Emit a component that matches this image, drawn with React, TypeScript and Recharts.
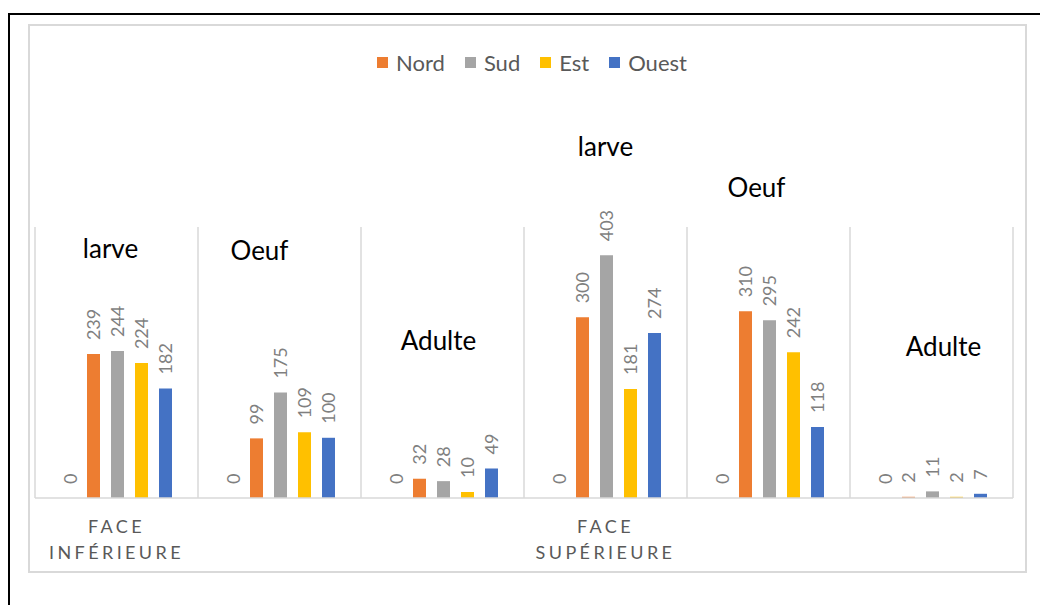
import React from 'react';
import { BarChart, Bar, XAxis, YAxis, Legend, LabelList, CartesianGrid, ReferenceDot } from 'recharts';

const categories = ['inf-larve', 'inf-oeuf', 'inf-adulte', 'sup-larve', 'sup-oeuf', 'sup-adulte'];
const faceLabels = [['FACE', 'INFÉRIEURE'], [], [], ['FACE', 'SUPÉRIEURE'], [], []];
const stageLabels = ['larve', 'Oeuf', 'Adulte', 'larve', 'Oeuf', 'Adulte'];

const baseValues = [0, 0, 0, 0, 0, 0];
const nordValues = [239, 99, 32, 300, 310, 2];
const sudValues = [244, 175, 28, 403, 295, 11];
const estValues = [224, 109, 10, 181, 242, 2];
const ouestValues = [182, 100, 49, 274, 118, 7];

const seriesNames = ['Nord', 'Sud', 'Est', 'Ouest'];
const seriesColors = ['#ED7D31', '#A5A5A5', '#FFC000', '#4472C4'];

const yDomain = [0, 450];

// text-box annotations (stage names) anchored on the value scale
const annotationLevels = [415, 412, 262, 584, 516, 252];
const annotationShift = [-6, -20, -4, 0, -12, 12];

const data = categories.map((c, i) => ({
  cat: c,
  base: baseValues[i],
  Nord: nordValues[i],
  Sud: sudValues[i],
  Est: estValues[i],
  Ouest: ouestValues[i],
}));

const FONT = 'Lato, "Open Sans", sans-serif';

const renderValueLabel = (props: any) => {
  const { x, y, width, height, value } = props;
  const cx = Number(x) + Number(width) / 2;
  const top = Math.min(Number(y), Number(y) + Number(height));
  const ty = (value === 0 ? top + Math.abs(Number(height)) : top) - 14;
  return (
    <text
      x={cx}
      y={ty}
      transform={`rotate(-90 ${cx} ${ty})`}
      textAnchor="start"
      dominantBaseline="central"
      fontFamily={FONT}
      fontSize={18}
      fill="#7f7f7f"
    >
      {value}
    </text>
  );
};

const FaceTick = (props: any) => {
  const { x, y, index } = props;
  const lines = faceLabels[index] || [];
  return (
    <g>
      {lines.map((t: string, k: number) => (
        <text
          key={k}
          x={x}
          y={y + 28 + k * 26}
          textAnchor="middle"
          dominantBaseline="central"
          fontFamily={FONT}
          fontSize={18}
          letterSpacing={3.4}
          fill="#595959"
        >
          {t}
        </text>
      ))}
    </g>
  );
};

const LegendContent = (props: any) => {
  const raw = (props.payload || []).filter((p: any) => p.type !== 'none' && p.value);
  const items = seriesNames
    .map((n) => raw.find((p: any) => p.value === n))
    .filter(Boolean);
  return (
    <div style={{ display: 'flex', justifyContent: 'center', alignItems: 'center', height: 30, paddingLeft: 24, boxSizing: 'border-box' }}>
      {items.map((p: any, i: number) => (
        <div key={i} style={{ display: 'flex', alignItems: 'center', marginLeft: i === 0 ? 0 : 20 }}>
          <span style={{ display: 'inline-block', width: 11, height: 11, background: p.color, marginRight: 8 }} />
          <span style={{ fontFamily: FONT, fontSize: 22, color: '#595959' }}>{p.value}</span>
        </div>
      ))}
    </div>
  );
};

const makeAnnotation = (text: string, dx: number) => (props: any) => {
  const vb = props.viewBox || {};
  const cx = (vb.x ?? props.x ?? 0) + (vb.width ?? 0) / 2 + dx;
  const cy = (vb.y ?? props.y ?? 0) + (vb.height ?? 0) / 2;
  return (
    <text x={cx} y={cy} textAnchor="middle" dominantBaseline="central" fontFamily={FONT} fontSize={26} fill="#000">
      {text}
    </text>
  );
};

const separatorGenerator = (args: any) => {
  const off = args.offset || {};
  const left = Number(off.left ?? 35);
  const w = Number(off.width ?? 978);
  return categories.map((_, i) => left + (i * w) / categories.length).concat([left + w]);
};

export default function App() {
  return (
    <div style={{ position: 'absolute', left: 0, top: 0, width: 1040, height: 605, background: '#fff', overflow: 'hidden' }}>
      <div style={{ position: 'absolute', left: 8, top: 13, width: 1200, height: 800, border: '2px solid #000', boxSizing: 'border-box' }} />
      <div style={{ position: 'absolute', left: 28, top: 24, width: 999, height: 549, border: '2px solid #d9d9d9', boxSizing: 'border-box' }} />
      <div style={{ position: 'absolute', left: 0, top: 0 }}>
        <BarChart
          width={1040}
          height={605}
          data={data}
          margin={{ top: 197, right: 27, bottom: 47, left: 35 }}
          barCategoryGap={28}
          barGap={11}
        >
          <CartesianGrid
            horizontal={false}
            vertical={true}
            stroke="#d9d9d9"
            strokeWidth={1.5}
            verticalCoordinatesGenerator={separatorGenerator}
          />
          <XAxis
            dataKey="cat"
            height={60}
            tickLine={false}
            tickSize={0}
            tickMargin={0}
            axisLine={{ stroke: '#d9d9d9', strokeWidth: 1.5 }}
            tick={<FaceTick />}
            interval={0}
          />
          <YAxis hide domain={yDomain} />
          <Legend
            verticalAlign="top"
            align="center"
            wrapperStyle={{ top: 47, left: 0, width: 1040, height: 30 }}
            content={<LegendContent />}
          />
          <Bar
            dataKey="base"
            name=""
            legendType="none"
            fill="transparent"
            minPointSize={1}
            isAnimationActive={false}
          >
            <LabelList dataKey="base" content={renderValueLabel} />
          </Bar>
          {seriesNames.map((s, i) => (
            <Bar key={s} dataKey={s} name={s} fill={seriesColors[i]} isAnimationActive={false}>
              <LabelList dataKey={s} content={renderValueLabel} />
            </Bar>
          ))}
          {categories.map((c, i) => (
            <ReferenceDot
              key={c}
              x={c}
              y={annotationLevels[i]}
              r={0}
              fill="none"
              stroke="none"
              ifOverflow="visible"
              label={makeAnnotation(stageLabels[i], annotationShift[i])}
            />
          ))}
        </BarChart>
      </div>
    </div>
  );
}
